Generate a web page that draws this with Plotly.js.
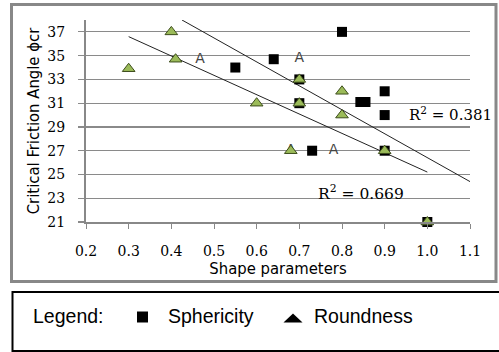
<!DOCTYPE html>
<html>
<head>
<meta charset="utf-8">
<script src="https://cdn.plot.ly/plotly-3.0.1.min.js"></script>
<style>html,body{margin:0;padding:0;background:#fff;}#chart{width:499px;height:352px;}</style>
</head>
<body>
<div id="chart"></div>
<script>
// Sphericity (black squares)
const sphX = [0.55, 0.64, 0.80, 0.843, 0.855, 0.90, 0.90, 0.73, 0.90, 1.00, 0.70, 0.70];
const sphY = [34.0, 34.7, 37.0, 31.1, 31.1, 32.0, 30.0, 27.0, 27.0, 21.0, 33.0, 31.0];
// Roundness (green triangles)
const rndX = [0.30, 0.40, 0.41, 0.60, 0.70, 0.70, 0.80, 0.80, 0.68, 0.90, 1.00];
const rndY = [33.9, 37.0, 34.7, 31.0, 33.0, 31.0, 32.0, 30.0, 27.0, 27.0, 21.0];
// Hollow markers rendered as "A"
const hollowX = [0.467, 0.70, 0.78, 0.68];
const hollowY = [34.7, 34.8, 27.0, 27.0];
// Trend lines
const trendRndX = [0.30, 1.00];
const trendRndY = [36.6, 25.2];
const trendSphX = [0.425, 1.10];
const trendSphY = [38.0, 24.4];
const r2Labels = ["R<sup>2</sup> = 0.381", "R<sup>2</sup> = 0.669"];
const xTicks = [0.2, 0.3, 0.4, 0.5, 0.6, 0.7, 0.8, 0.9, 1.0, 1.1];
const yTicks = [21, 23, 25, 27, 29, 31, 33, 35, 37];

const traces = [
  {x: trendRndX, y: trendRndY, mode: 'lines', line: {color: '#222', width: 1}, hoverinfo: 'skip'},
  {x: trendSphX, y: trendSphY, mode: 'lines', line: {color: '#222', width: 1}, hoverinfo: 'skip'},
  {x: sphX, y: sphY, mode: 'markers', name: 'Sphericity',
   marker: {symbol: 'square', size: 10, color: '#000'}},
  {x: hollowX, y: hollowY, mode: 'text', text: hollowX.map(() => 'A'),
   textfont: {family: 'DejaVu Sans', size: 14, color: '#444'}},
  {x: rndX, y: rndY, mode: 'markers', name: 'Roundness',
   marker: {symbol: 'triangle-up', size: 11, color: '#9BBB59', line: {color: '#3d4d1c', width: 1}}}
];
traces.forEach(t => { t.cliponaxis = false; });
traces[0].cliponaxis = true; traces[1].cliponaxis = true;

const W = 384, H = 202, L = 86, T = 20;
const px = v => (v - L) / W;
const py = v => (T + H - v) / H;
const lf = {family: 'Liberation Sans, Arial', size: 19.5, color: '#000'};

const layout = {
  width: 499, height: 352,
  margin: {l: 86, r: 29, t: 20, b: 130},
  paper_bgcolor: '#fff', plot_bgcolor: '#fff',
  showlegend: false,
  xaxis: {
    range: [0.2, 1.1], tickvals: xTicks, tickformat: '.1f',
    showgrid: false, zeroline: false,
    showline: true, linecolor: '#888', linewidth: 2,
    ticks: 'outside', ticklen: 5, tickcolor: '#888', tickwidth: 1,
    ticklabelstandoff: 10,
    tickfont: {family: 'DejaVu Serif', size: 14, color: '#000'},
    title: {text: 'Shape parameters', standoff: 0,
            font: {family: 'DejaVu Sans Condensed', size: 16.5, color: '#000'}}
  },
  yaxis: {
    range: [21, 38], tickvals: yTicks,
    showgrid: true, gridcolor: '#8a8a8a', gridwidth: 1.2, zeroline: false,
    showline: true, linecolor: '#888', linewidth: 2,
    ticks: 'outside', ticklen: 6, tickcolor: '#8a8a8a', tickwidth: 1.2,
    ticklabelstandoff: 10,
    tickfont: {family: 'DejaVu Serif', size: 14, color: '#000'},
    title: {text: 'Critical Friction Angle \u03d5cr', standoff: 4,
            font: {family: 'DejaVu Sans Condensed', size: 16.5, color: '#000'}}
  },
  annotations: [
    {x: 0.952, y: 30.1, xref: 'x', yref: 'y', text: r2Labels[0], showarrow: false,
     xanchor: 'left', yanchor: 'middle', font: {family: 'DejaVu Serif', size: 15, color: '#000'}},
    {x: 0.738, y: 23.45, xref: 'x', yref: 'y', text: r2Labels[1], showarrow: false,
     xanchor: 'left', yanchor: 'middle', font: {family: 'DejaVu Serif', size: 15.5, color: '#000'}},
    {x: px(31), y: py(316), xref: 'paper', yref: 'paper', text: 'Legend:', showarrow: false,
     xanchor: 'left', yanchor: 'middle', font: lf},
    {x: px(166), y: py(316), xref: 'paper', yref: 'paper', text: 'Sphericity', showarrow: false,
     xanchor: 'left', yanchor: 'middle', font: lf},
    {x: px(312), y: py(316), xref: 'paper', yref: 'paper', text: 'Roundness', showarrow: false,
     xanchor: 'left', yanchor: 'middle', font: lf}
  ],
  shapes: [
    {type: 'rect', xref: 'paper', yref: 'paper', x0: px(11.5), x1: px(496), y0: py(281.5), y1: py(4.5),
     line: {color: '#888', width: 3}},
    {type: 'rect', xref: 'paper', yref: 'paper', x0: px(12.5), x1: px(505), y0: py(351), y1: py(292),
     line: {color: '#000', width: 2}},
    {type: 'rect', xref: 'paper', yref: 'paper', xsizemode: 'pixel', ysizemode: 'pixel',
     xanchor: px(142.5), yanchor: py(317), x0: -5.5, x1: 5.5, y0: -5.5, y1: 5.5,
     line: {width: 0}, fillcolor: '#000'},
    {type: 'path', xref: 'paper', yref: 'paper', xsizemode: 'pixel', ysizemode: 'pixel',
     xanchor: px(293), yanchor: py(318), path: 'M-9.5,-4.5 L9.5,-4.5 L0,4.5 Z',
     line: {width: 0}, fillcolor: '#000'}
  ]
};

Plotly.newPlot('chart', traces, layout, {displayModeBar: false, staticPlot: true});
</script>
</body>
</html>
